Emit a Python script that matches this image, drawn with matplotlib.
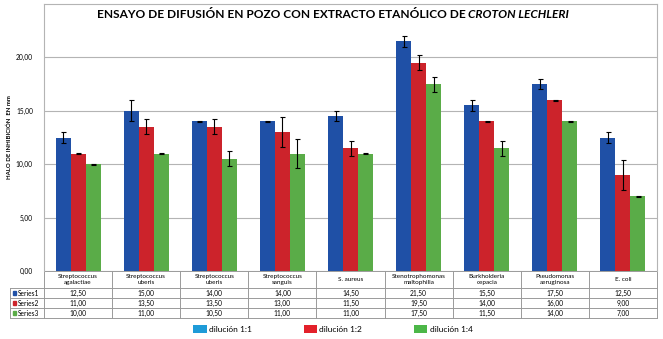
import numpy as np
import matplotlib
matplotlib.use('Agg')
import matplotlib.pyplot as plt
from matplotlib.patches import Patch

plt.rcParams['font.family'] = ['Lato', 'DejaVu Sans']

categories = ["Streptococcus\nagalactiae", "Streptococcus\nuberis", "Streptococcus\nuberis",
              "Streptococcus\nsanguis", "S. aureus", "Stenotrophomonas\nmaltophilia",
              "Burkholderia\ncepacia", "Pseudomonas\naeruginosa", "E. coli"]
series_names = ["Series1", "Series2", "Series3"]
legend_names = ["dilución 1:1", "dilución 1:2", "dilución 1:4"]
s1 = [12.5, 15.0, 14.0, 14.0, 14.5, 21.5, 15.5, 17.5, 12.5]
s2 = [11.0, 13.5, 13.5, 13.0, 11.5, 19.5, 14.0, 16.0, 9.0]
s3 = [10.0, 11.0, 10.5, 11.0, 11.0, 17.5, 11.5, 14.0, 7.0]
err1 = [0.5, 1.0, 0.05, 0.05, 0.5, 0.5, 0.5, 0.5, 0.5]
err2 = [0.05, 0.7, 0.7, 1.4, 0.7, 0.7, 0.05, 0.05, 1.4]
err3 = [0.05, 0.05, 0.7, 1.4, 0.05, 0.7, 0.7, 0.05, 0.05]
yticks = [0, 5, 10, 15, 20]

bar_colors = ['#1f50a6', '#cc232b', '#5aac48']
key_colors = ['#1e9bd8', '#e3202a', '#4cb748']
grid_c = '#b4b4b4'

W, H = 663, 339
fig = plt.figure(figsize=(W / 100, H / 100), dpi=100)
ax = fig.add_axes([44 / W, 68 / H, 613 / W, 267 / H])

n = len(categories)
x = np.arange(n)
bw = 0.22
for i, (vals, errs) in enumerate(zip([s1, s2, s3], [err1, err2, err3])):
    ax.bar(x + (i - 1) * bw, vals, bw, color=bar_colors[i], zorder=3,
           yerr=errs, error_kw=dict(ecolor='black', elinewidth=0.8, capsize=1.8,
                                    capthick=0.8, zorder=4))

ax.set_xlim(-0.5, n - 0.5)
ax.set_ylim(0, 25)
ax.set_yticks(yticks)
ax.set_yticklabels([f"{v:.2f}".replace('.', ',') for v in yticks], fontsize=4.8)
ax.tick_params(axis='y', length=0, pad=8)
ax.set_xticks([])
ax.yaxis.grid(True, color=grid_c, lw=0.8, zorder=0)
for sp in ['top', 'right', 'left']:
    ax.spines[sp].set_color(grid_c)
    ax.spines[sp].set_linewidth(0.8)
ax.spines['bottom'].set_visible(False)
ax.set_ylabel('HALO DE INHIBICIÓN  EN mm', fontsize=4.3, fontweight='bold', labelpad=3)

# data table below the axes
def ya(py):
    return (271 - py) / 267

def xa(px):
    return (px - 44) / 613

rows_py = [271, 288, 298, 308, 318]
tc = '#9a9a9a'
for k, py in enumerate(rows_py):
    x0 = 0 if k == 0 else xa(10)
    ax.plot([x0, 1], [ya(py), ya(py)], color=tc, lw=0.7, transform=ax.transAxes, clip_on=False)
for j in range(n + 1):
    ax.plot([j / n, j / n], [ya(271), ya(318)], color=tc, lw=0.7, transform=ax.transAxes, clip_on=False)
ax.plot([xa(10), xa(10)], [ya(288), ya(318)], color=tc, lw=0.7, transform=ax.transAxes, clip_on=False)

for j, cat in enumerate(categories):
    ax.text((j + 0.5) / n, ya(279.5), cat, ha='center', va='center', fontsize=4.6,
            linespacing=1.25, transform=ax.transAxes)
for i, vals in enumerate([s1, s2, s3]):
    yc = ya((rows_py[i + 1] + rows_py[i + 2]) / 2)
    for j, v in enumerate(vals):
        ax.text((j + 0.5) / n, yc, f"{v:.2f}".replace('.', ','), ha='center', va='center',
                fontsize=4.8, transform=ax.transAxes)
    ax.text(xa(18), yc, series_names[i], ha='left', va='center', fontsize=4.8,
            transform=ax.transAxes)
    ax.add_patch(plt.Rectangle((xa(12.5), yc - 0.009), 3.5 / 613, 0.018, color=bar_colors[i],
                               transform=ax.transAxes, clip_on=False))

# title
t1 = fig.text(0.5, 1 - 15 / H, 'ENSAYO DE DIFUSIÓN EN POZO CON EXTRACTO ETANÓLICO DE ',
              ha='left', va='center', fontsize=8.6, fontweight='bold')
fig.canvas.draw()
r = fig.canvas.get_renderer()
bb1 = t1.get_window_extent(r)
t2 = fig.text(0, 1 - 15 / H, 'CROTON LECHLERI', ha='left', va='center', fontsize=8.6,
              fontweight='bold', fontstyle='italic')
bb2 = t2.get_window_extent(r)
total = bb1.width + bb2.width
start = 333 - total / 2
t1.set_x(start / W)
t2.set_x((start + bb1.width) / W)

handles = [Patch(facecolor=c, edgecolor='none') for c in key_colors]
fig.legend(handles, legend_names, loc='center', bbox_to_anchor=(333 / W, 1 - 329 / H),
           ncol=3, frameon=False, fontsize=6, handlelength=1.6, handleheight=1.1,
           handletextpad=0.3, columnspacing=6.2)

fig.savefig('out.png', dpi=100, facecolor='white')
